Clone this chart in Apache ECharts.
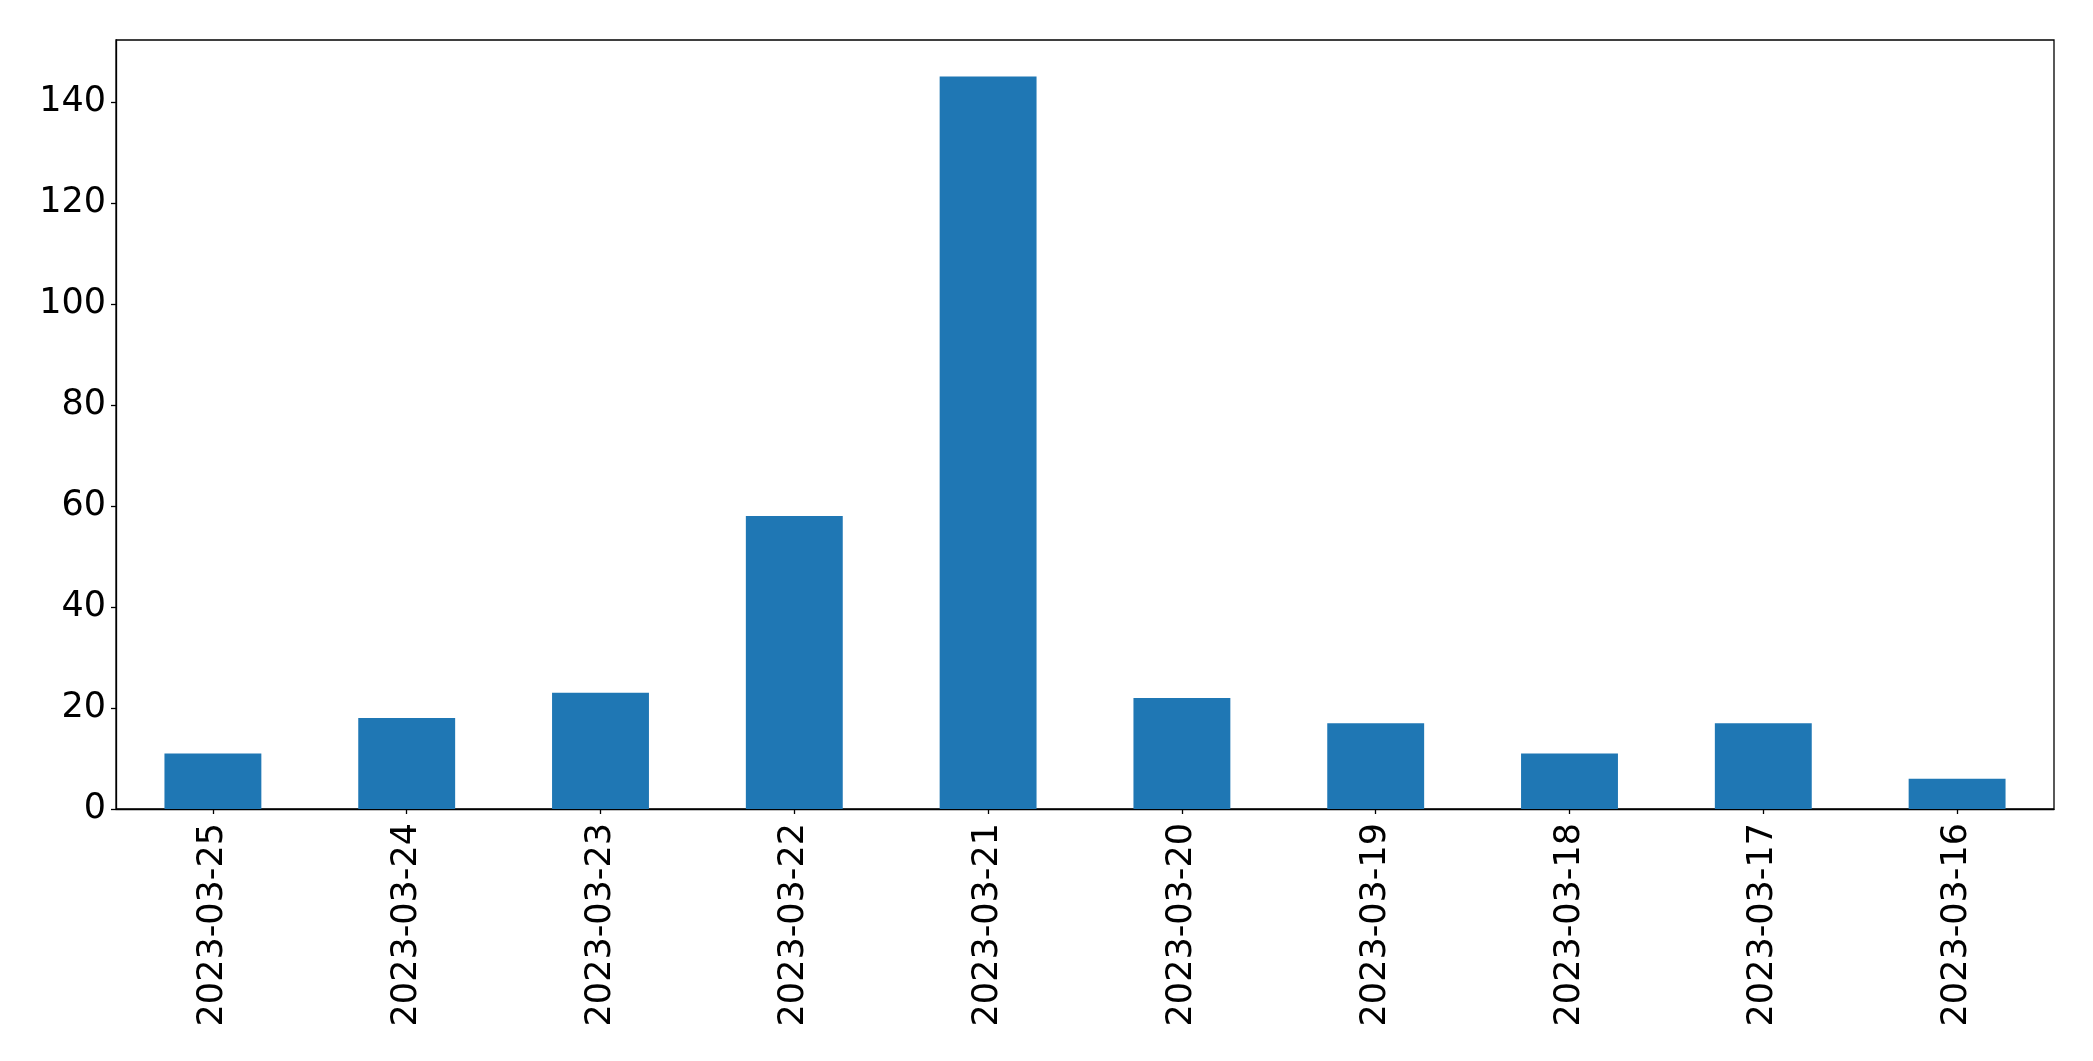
<!DOCTYPE html>
<html>
<head>
<meta charset="utf-8">
<script src="https://cdn.jsdelivr.net/npm/echarts@6/dist/echarts.min.js"></script>
<style>
html,body{margin:0;padding:0;background:#fff;}
#chart{width:2093px;height:1061px;}
</style>
</head>
<body>
<div id="chart"></div>
<script>
const categories = ['2023-03-25','2023-03-24','2023-03-23','2023-03-22','2023-03-21','2023-03-20','2023-03-19','2023-03-18','2023-03-17','2023-03-16'];
const values = [11, 18, 23, 58, 145, 22, 17, 11, 17, 6];
const yTicks = [0, 20, 40, 60, 80, 100, 120, 140];

const chart = echarts.init(document.getElementById('chart'), null, {renderer: 'canvas'});
const font = 'DejaVu Sans';
chart.setOption({
  animation: false,
  grid: {left: 116, right: 39, top: 40, bottom: 252, show: true, borderColor: '#000', borderWidth: 1.3, backgroundColor: 'transparent'},
  xAxis: {
    type: 'category',
    data: categories,
    axisLine: {show: true, lineStyle: {color: '#000', width: 1.3}},
    axisTick: {show: true, alignWithLabel: true, length: 5, lineStyle: {color: '#000', width: 1.3}},
    axisLabel: {rotate: 90, margin: 14, color: '#000', fontSize: 35, fontFamily: font, interval: 0},
    splitLine: {show: false}
  },
  yAxis: {
    type: 'value',
    min: 0,
    max: 152.25,
    interval: 20,
    axisLine: {show: true, lineStyle: {color: '#000', width: 1.3}},
    axisTick: {show: true, length: 5, lineStyle: {color: '#000', width: 1.3}},
    axisLabel: {
      margin: 10, color: '#000', fontSize: 35, fontFamily: font,
      showMaxLabel: false,
      formatter: function (v) { return yTicks.indexOf(v) >= 0 ? String(v) : ''; }
    },
    splitLine: {show: false}
  },
  series: [{
    type: 'bar',
    data: values,
    barWidth: '50%',
    itemStyle: {color: '#1f77b4'}
  }]
});
</script>
</body>
</html>
